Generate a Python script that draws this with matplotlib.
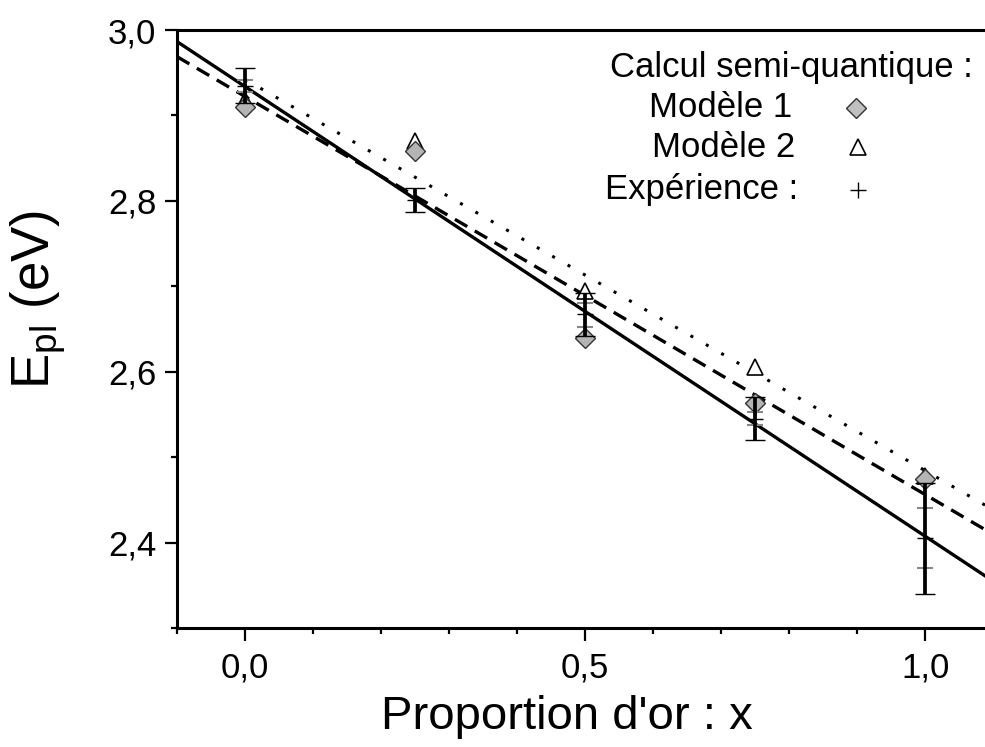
import numpy as np
import matplotlib
matplotlib.use("Agg")
import matplotlib.pyplot as plt
from matplotlib.ticker import FixedLocator, MultipleLocator

plt.rcParams['font.family'] = ['Liberation Sans', 'DejaVu Sans']
plt.rcParams['mathtext.fontset'] = 'custom'
plt.rcParams['mathtext.rm'] = 'Liberation Sans'
plt.rcParams['mathtext.it'] = 'Liberation Sans:italic'

# ---- data ----
x_vals = [0.0, 0.25, 0.5, 0.75, 1.0]
model1 = [2.910, 2.858, 2.640, 2.563, 2.475]
model2 = [2.918, 2.870, 2.695, 2.605, 2.478]
exp_vals = [2.935, 2.801, 2.667, 2.545, 2.405]
exp_err = [0.020, 0.014, 0.025, 0.025, 0.065]
# individual measurements (grey ticks)
indiv_x = [0.0, 0.0, 0.5, 0.5, 0.75, 0.75, 1.0, 1.0]
indiv_y = [2.942, 2.928, 2.680, 2.652, 2.553, 2.538, 2.440, 2.370]

xticks = [0.0, 0.5, 1.0]
xticklabels = ["0,0", "0,5", "1,0"]
yticks = [2.4, 2.6, 2.8, 3.0]
yticklabels = ["2,4", "2,6", "2,8", "3,0"]

x = np.array(x_vals)
fit_exp = np.polyfit(x, exp_vals, 1)
fit_m1 = np.polyfit(x, model1, 1)
fit_m2 = np.polyfit(x, model2, 1)

fig = plt.figure(figsize=(9.85, 7.47), dpi=100)
ax = fig.add_axes([177/985, 1-628/747, 808/985, 598/747])

xl = np.array([-0.1, 1.2])
ax.plot(xl, np.polyval(fit_exp, xl), color='black', lw=2.4, zorder=2)
ax.plot(xl, np.polyval(fit_m1, xl), color='black', lw=2.4,
        linestyle=(0, (4.3, 2.6)), zorder=2)
xd = np.array([0.0, 1.2])
ax.plot(xd, np.polyval(fit_m2, xd), color='black', lw=2.2,
        linestyle=(0, (1, 4.8)), zorder=2)

ax.plot(x_vals, model2, linestyle='none', marker='^', markersize=12,
        markerfacecolor='white', markeredgecolor='black', markeredgewidth=1.2, zorder=3)
ax.plot(x_vals, model1, linestyle='none', marker='D', markersize=10,
        markerfacecolor='#b4b4b4', markeredgecolor='#333333', markeredgewidth=1.0, zorder=4)
ax.plot(indiv_x, indiv_y, linestyle='none', marker='_', markersize=12,
        markeredgecolor='#888888', markeredgewidth=1.5, zorder=5)
ax.errorbar(x_vals, exp_vals, yerr=exp_err, fmt='+', color='black', markersize=12,
            markeredgewidth=1.0, elinewidth=2.7, capsize=7, capthick=2.7, zorder=6)

ax.set_xlim(-0.1, 1.088)
ax.set_ylim(2.3, 3.0)

ax.xaxis.set_major_locator(FixedLocator(xticks))
ax.set_xticklabels(xticklabels)
ax.xaxis.set_minor_locator(MultipleLocator(0.1))
ax.yaxis.set_major_locator(FixedLocator(yticks))
ax.set_yticklabels(yticklabels)
ax.yaxis.set_minor_locator(MultipleLocator(0.1))

ax.tick_params(which='major', direction='out', length=9, width=1.6,
               labelsize=25, pad=6)
ax.tick_params(which='minor', direction='out', length=4.5, width=1.6)
ax.tick_params(axis='x', which='major', pad=8)

for s in ['left', 'bottom', 'top']:
    ax.spines[s].set_linewidth(2.2)
ax.spines['right'].set_visible(False)

ax.set_xlabel("Proportion d'or : x", fontsize=34)
ax.xaxis.set_label_coords(0.483, -0.112)
ax.set_ylabel(r"E$_{\mathrm{pl}}$ (eV)", fontsize=38)
ax.yaxis.set_label_coords(-0.135, 0.55)

# legend (manual layout)
leg_fs = 25
ax.text(0.985, 0.938, "Calcul semi-quantique :", transform=ax.transAxes,
        ha='right', va='center', fontsize=leg_fs)
ax.text(0.762, 0.870, "Modèle 1", transform=ax.transAxes,
        ha='right', va='center', fontsize=leg_fs)
ax.text(0.765, 0.803, "Modèle 2", transform=ax.transAxes,
        ha='right', va='center', fontsize=leg_fs)
ax.text(0.769, 0.733, "Expérience :", transform=ax.transAxes,
        ha='right', va='center', fontsize=leg_fs)
ax.plot([0.840], [0.870], transform=ax.transAxes, marker='D', markersize=10,
        markerfacecolor='#c0c0c0', markeredgecolor='#333333', markeredgewidth=1.0,
        linestyle='none', clip_on=False)
ax.plot([0.843], [0.805], transform=ax.transAxes, marker='^', markersize=12,
        markerfacecolor='white', markeredgecolor='black', markeredgewidth=1.2,
        linestyle='none', clip_on=False)
ax.plot([0.843], [0.733], transform=ax.transAxes, marker='+', markersize=12,
        markeredgecolor='black', markeredgewidth=1.0, linestyle='none', clip_on=False)

fig.savefig("out.png", dpi=100)
